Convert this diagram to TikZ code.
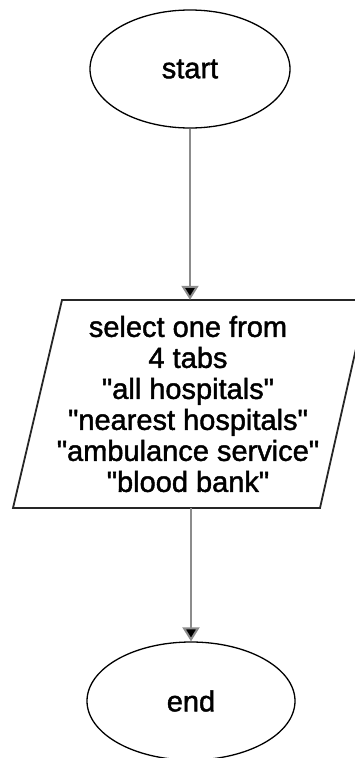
\documentclass[tikz,border=0pt]{standalone}
\usepackage{fontspec}
\setmainfont{Liberation Sans}
\newfontfamily\chartfont{Liberation Sans}[FakeBold=1.5]
\usepackage{tikz}
\usetikzlibrary{shapes.geometric,arrows.meta}

\newcommand{\tabname}[1]{\textquotedbl#1\textquotedbl}

\begin{document}
\begin{tikzpicture}[x=1pt, y=-1pt,
  terminal/.style = {ellipse, draw, line width=1.3pt, minimum width=200pt, minimum height=118pt, inner sep=0pt},
  iobox/.style = {draw=black!85, line width=1.8pt, line join=miter},
  flow/.style = {draw=black!45, line width=2pt, -{Triangle[length=14pt, width=17pt, fill=black]}}]
\useasboundingbox (0,0) rectangle (354,758);
\tikzset{every node/.style={font=\chartfont\fontsize{29}{31}\selectfont}}

\node[terminal] (start) at (190,69) {start};
% input box: parallelogram drawn round the text
\draw[iobox] (13,508) -- (320,508) -- (367,300) -- (62,300) -- cycle;
\node[align=center, minimum height=208pt, inner sep=0pt] (sel) at (188,404) {select one from\\4 tabs\\\tabname{all hospitals}\\\tabname{nearest hospitals}\\\tabname{ambulance service}\\\tabname{blood bank}};
\node[terminal, minimum width=208pt] (end) at (191,701) {end};

\draw[flow] (start.south) -- (start.south |- sel.north);
\draw[flow] (end.north |- sel.south) -- (end.north);
\end{tikzpicture}
\end{document}
